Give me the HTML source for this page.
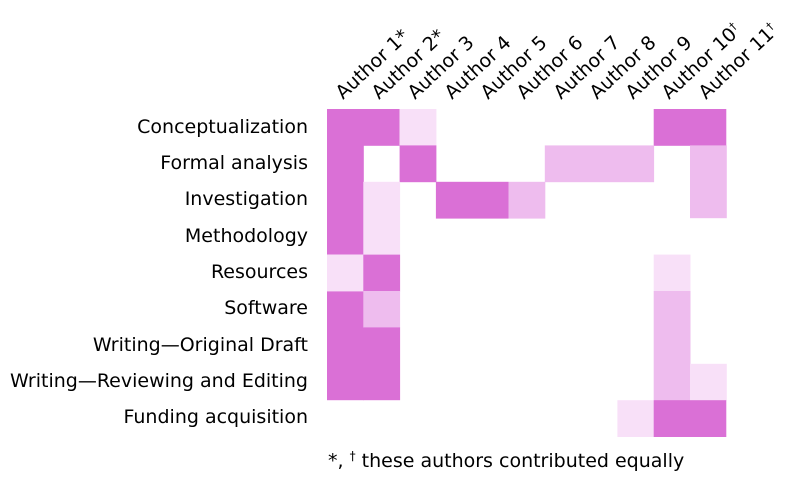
<!DOCTYPE html>
<html><head><style>
body{margin:0;background:#fff;}
svg{display:block;font-family:"DejaVu Sans","Liberation Sans",sans-serif;}
</style></head><body>
<svg width="794" height="489" viewBox="0 0 794 489">
<g>
<rect x="327" y="109" width="72.6" height="36.8" fill="#da70d6"/>
<rect x="399.6" y="109" width="36.8" height="36.8" fill="#f8e0f8"/>
<rect x="653.7" y="109" width="72.6" height="36.8" fill="#da70d6"/>
<rect x="327" y="145.4" width="36.8" height="109.2" fill="#da70d6"/>
<rect x="327" y="291" width="36.8" height="109.2" fill="#da70d6"/>
<rect x="399.6" y="145.4" width="36.8" height="36.8" fill="#da70d6"/>
<rect x="544.8" y="145.4" width="109.3" height="36.8" fill="#eebcee"/>
<rect x="690" y="145.4" width="36.8" height="72.8" fill="#eebcee"/>
<rect x="363.3" y="181.8" width="36.8" height="72.8" fill="#f8e0f8"/>
<rect x="435.9" y="181.8" width="72.6" height="36.8" fill="#da70d6"/>
<rect x="508.5" y="181.8" width="36.8" height="36.8" fill="#eebcee"/>
<rect x="327" y="254.6" width="36.8" height="36.8" fill="#f8e0f8"/>
<rect x="363.3" y="254.6" width="36.8" height="36.8" fill="#da70d6"/>
<rect x="653.7" y="254.6" width="36.8" height="36.8" fill="#f8e0f8"/>
<rect x="363.3" y="291" width="36.8" height="36.8" fill="#eebcee"/>
<rect x="653.7" y="291" width="36.8" height="109.6" fill="#eebcee"/>
<rect x="363.3" y="327.4" width="36.8" height="72.8" fill="#da70d6"/>
<rect x="690" y="363.8" width="36.8" height="36.8" fill="#f8e0f8"/>
<rect x="617.4" y="400.2" width="36.8" height="36.8" fill="#f8e0f8"/>
<rect x="653.7" y="400.2" width="72.6" height="36.8" fill="#da70d6"/>
</g>
<g font-size="19" fill="#000" text-anchor="end">
<text x="308" y="133">Conceptualization</text>
<text x="308" y="169">Formal analysis</text>
<text x="308" y="205">Investigation</text>
<text x="308" y="242">Methodology</text>
<text x="308" y="278">Resources</text>
<text x="308" y="314">Software</text>
<text x="308" y="351">Writing—Original Draft</text>
<text x="308" y="387">Writing—Reviewing and Editing</text>
<text x="308" y="423">Funding acquisition</text>
</g>
<g font-size="19" fill="#000">
<text transform="translate(343,100) rotate(-43)">Author 1*</text>
<text transform="translate(379,100) rotate(-43)">Author 2*</text>
<text transform="translate(415,100) rotate(-43)">Author 3</text>
<text transform="translate(452,100) rotate(-43)">Author 4</text>
<text transform="translate(488,100) rotate(-43)">Author 5</text>
<text transform="translate(524,100) rotate(-43)">Author 6</text>
<text transform="translate(561,100) rotate(-43)">Author 7</text>
<text transform="translate(597,100) rotate(-43)">Author 8</text>
<text transform="translate(633,100) rotate(-43)">Author 9</text>
<text transform="translate(669,100) rotate(-43)">Author 10<tspan dy="-7" font-size="11">†</tspan></text>
<text transform="translate(706,100) rotate(-43)">Author 11<tspan dy="-7" font-size="11">†</tspan></text>
</g>
<text x="328" y="467" font-size="19">*, <tspan dy="-7" font-size="12">†</tspan><tspan dy="7"> these authors contributed equally</tspan></text>
</svg>
</body></html>
